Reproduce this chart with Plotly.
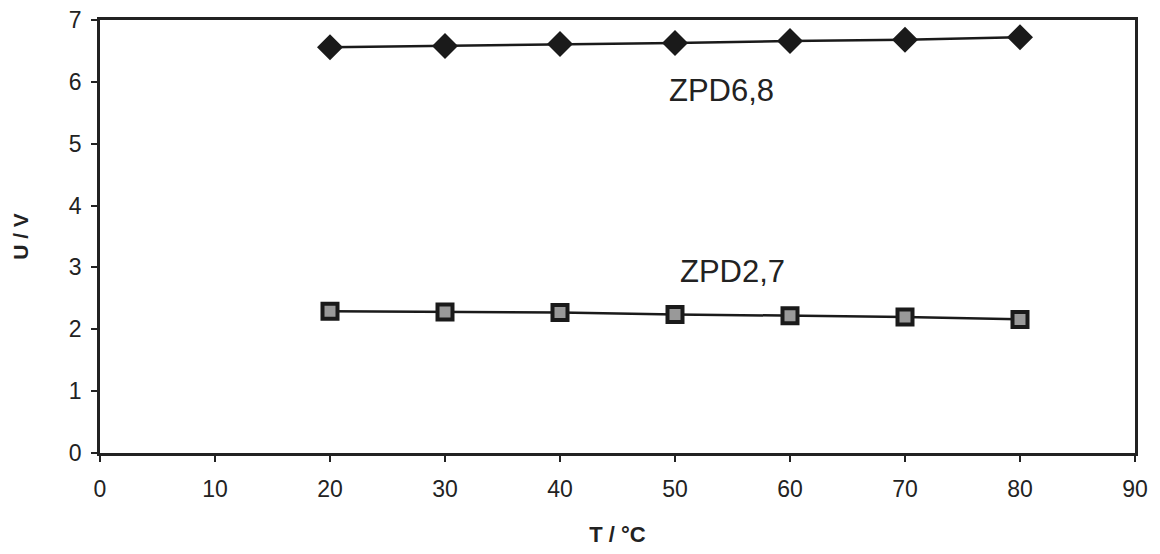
import plotly.graph_objects as go

temps = [20, 30, 40, 50, 60, 70, 80]
zpd68 = [6.56, 6.58, 6.61, 6.63, 6.66, 6.68, 6.72]
zpd27 = [2.29, 2.28, 2.27, 2.24, 2.22, 2.20, 2.16]
x_ticks = [0, 10, 20, 30, 40, 50, 60, 70, 80, 90]
y_ticks = [0, 1, 2, 3, 4, 5, 6, 7]

fig = go.Figure()
fig.add_trace(go.Scatter(
    x=temps, y=zpd68, mode="lines+markers", name="ZPD6,8",
    line=dict(color="#1a1a1a", width=2.5),
    marker=dict(symbol="diamond", size=20, color="#1a1a1a"),
))
fig.add_trace(go.Scatter(
    x=temps, y=zpd27, mode="lines+markers", name="ZPD2,7",
    line=dict(color="#1a1a1a", width=2.5),
    marker=dict(symbol="square", size=15, color="#999999",
                line=dict(color="#1a1a1a", width=4)),
))

font_family = "Liberation Sans, Arial, sans-serif"
fig.add_annotation(x=54.0, y=5.86, text="ZPD6,8", showarrow=False,
                   font=dict(family=font_family, size=31, color="#222"))
fig.add_annotation(x=55.0, y=2.93, text="ZPD2,7", showarrow=False,
                   font=dict(family=font_family, size=31, color="#222"))

fig.update_layout(
    width=1160, height=554,
    margin=dict(l=92, r=33, t=12, b=109),
    paper_bgcolor="white", plot_bgcolor="white",
    showlegend=False,
    font=dict(family=font_family, size=23, color="#222"),
)
fig.update_xaxes(
    range=[0, 90], tickvals=x_ticks, ticks="outside", ticklen=6,
    tickwidth=1.5, tickcolor="#222", automargin=False,
    ticklabeloverflow="allow", ticklabelstandoff=8,
    showline=True, linecolor="#222", linewidth=2.5, mirror=True,
    showgrid=False, zeroline=False,
    title=dict(text="<b>T / °C</b>", font=dict(size=22), standoff=26),
)
fig.update_yaxes(
    range=[0, 7], tickvals=y_ticks, ticks="outside", ticklen=6,
    tickwidth=1.5, tickcolor="#222", automargin=False,
    ticklabeloverflow="allow", ticklabelstandoff=5,
    showline=True, linecolor="#222", linewidth=2.5, mirror=True,
    showgrid=False, zeroline=False,
    title=dict(text="<b>U / V</b>", font=dict(size=21), standoff=35),
)

fig.write_html("out.html")
